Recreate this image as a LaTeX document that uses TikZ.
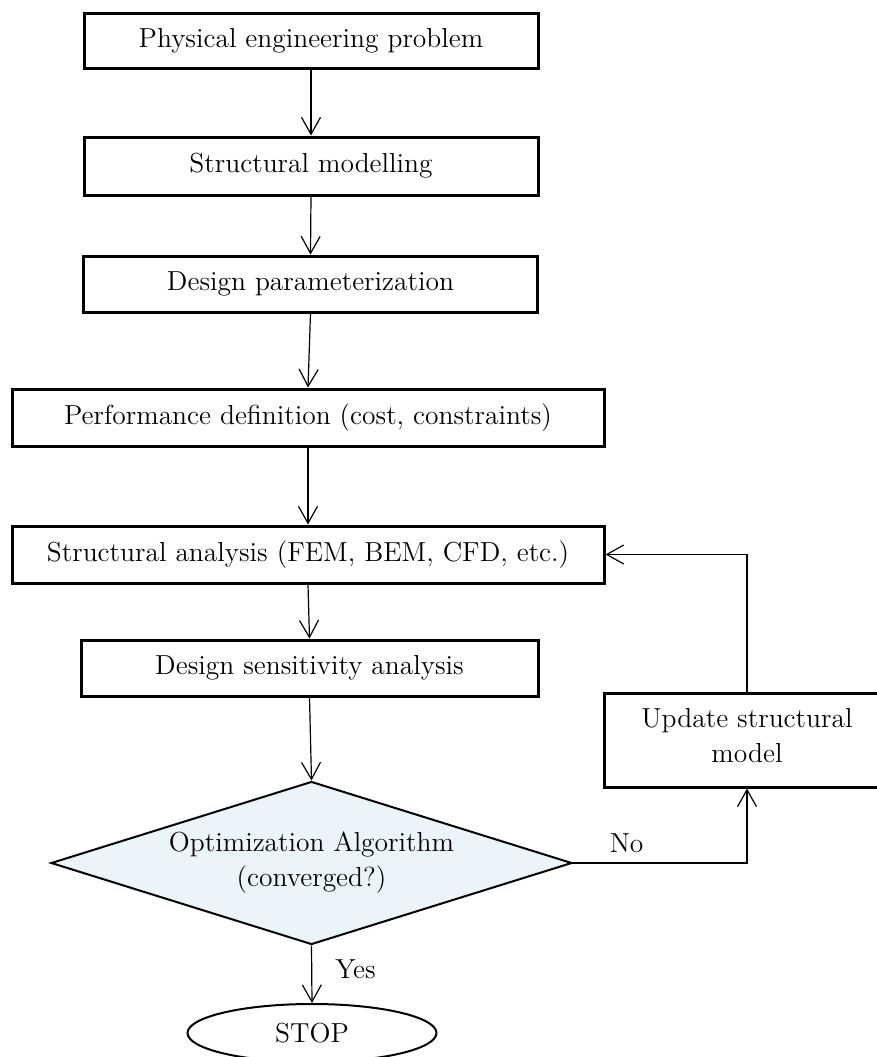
\documentclass[tikz,border=0pt]{standalone}
\usepackage{fontspec}
\usetikzlibrary{shapes.geometric,arrows.meta}
\definecolor{diafill}{RGB}{235,245,249}
\begin{document}
\begin{tikzpicture}[x=0.5pt,y=-0.5pt,
  font=\fontsize{13.75}{17.5}\selectfont,
  procbox/.style={draw, rectangle, line width=1.5pt, inner sep=0pt, align=center},
  decbox/.style={draw, diamond, line width=1pt, fill=diafill, inner sep=0pt, aspect=3.2, align=center},
  endbox/.style={draw, ellipse, line width=1pt, inner sep=0pt},
  conn/.style={line width=0.6pt, -{Straight Barb[length=8.5pt,width=9.5pt]}},
  lbl/.style={inner sep=0pt}]
\useasboundingbox (0,0) rectangle (877,1057);
\node[procbox, minimum width=227pt, minimum height=27.5pt] (b1) at (311,40.5) {Physical engineering problem};
\node[procbox, minimum width=227pt, minimum height=29pt] (b2) at (311,166) {Structural modelling};
\node[procbox, minimum width=227pt, minimum height=28pt] (b3) at (310.5,284) {Design parameterization};
\node[procbox, minimum width=296pt, minimum height=28.5pt] (b4) at (308,417.5) {Performance definition (cost, constraints)};
\node[procbox, minimum width=296pt, minimum height=28.5pt] (b5) at (308,554.5) {Structural analysis (FEM, BEM, CFD, etc.)};
\node[procbox, minimum width=228.5pt, minimum height=28pt] (b6) at (309.5,668) {Design sensitivity analysis};
\node[decbox, minimum width=260.5pt, minimum height=81.5pt] (d) at (311.5,863) {Optimization Algorithm\\(converged?)};
\node[endbox, minimum width=124.5pt, minimum height=29pt] (stop) at (312,1033) {STOP};
\node[procbox, minimum width=143pt, minimum height=47pt, text depth=5pt] (upd) at (747,740) {Update structural\\model};
\draw[conn] (b1.south) -- (b2.north);
\draw[conn] (b2.south) -- (b3.north);
\draw[conn] (b3.south) -- (b4.north);
\draw[conn] (b4.south) -- (b5.north);
\draw[conn] (b5.south) -- (b6.north);
\draw[conn] (b6.south) -- (d.north);
\draw[conn] (d.south) -- node[lbl, pos=0.42, anchor=west, xshift=11.5pt] {Yes} (stop.north);
\draw[conn] (d.east) -| node[lbl, pos=0.154, anchor=south, yshift=5pt] {No} (upd.south);
\draw[conn] (upd.north) |- (b5.east);
\end{tikzpicture}
\end{document}
